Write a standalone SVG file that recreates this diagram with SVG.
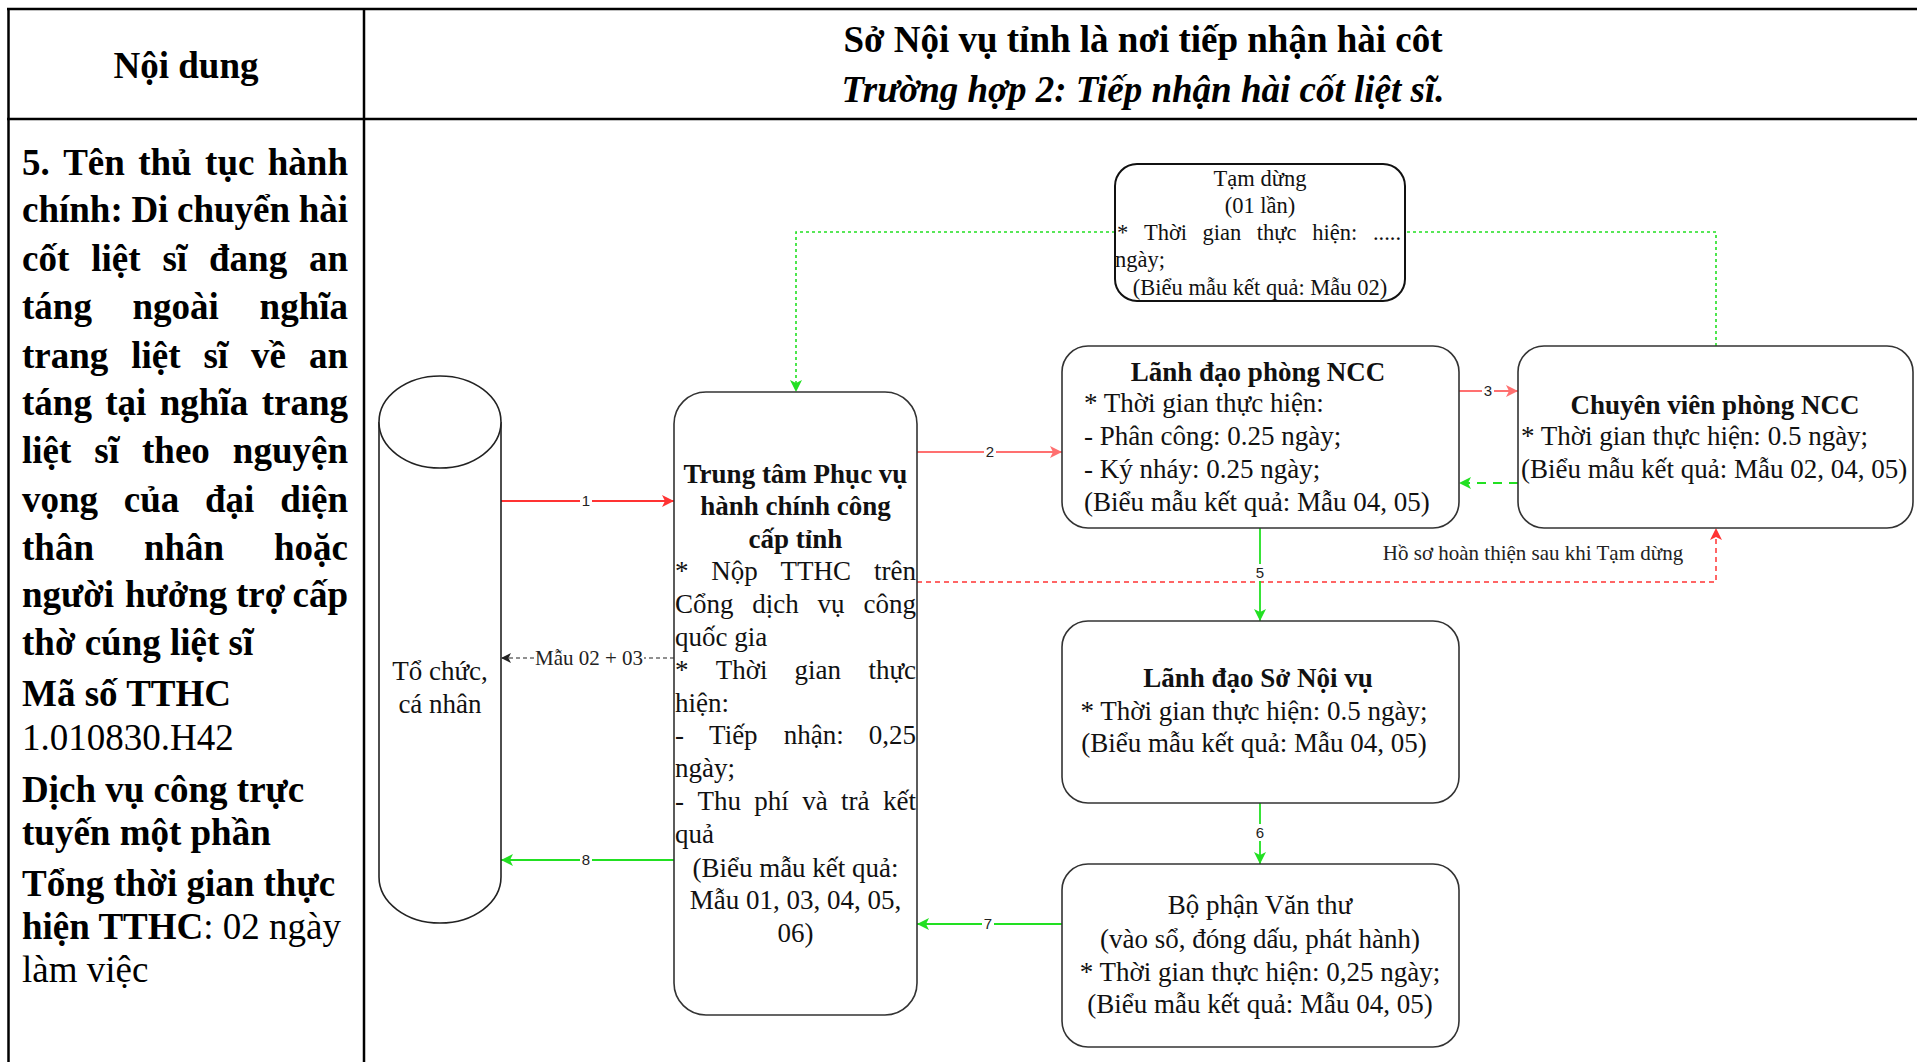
<svg xmlns="http://www.w3.org/2000/svg" width="1917" height="1062" viewBox="0 0 1917 1062">
  <style>
    .grid { stroke: #000; stroke-width: 2.5; fill: none; }
    .hb { font-family: "Liberation Serif", "Times New Roman", serif; font-size: 37px; font-weight: bold; fill: #000; }
    .hi { font-family: "Liberation Serif", "Times New Roman", serif; font-size: 37px; font-weight: bold; font-style: italic; fill: #000; }
    .lb { font-family: "Liberation Serif", "Times New Roman", serif; font-size: 37px; font-weight: bold; fill: #000; }
    .lr { font-family: "Liberation Serif", "Times New Roman", serif; font-size: 37px; font-weight: normal; fill: #000; }
    .box { fill: #fff; stroke: #333; stroke-width: 1.6; }
    .nt { font-family: "Liberation Serif", "Times New Roman", serif; font-size: 27px; fill: #111; }
    .ntb { font-family: "Liberation Serif", "Times New Roman", serif; font-size: 27px; font-weight: bold; fill: #111; }
    .st { font-family: "Liberation Serif", "Times New Roman", serif; font-size: 22.5px; fill: #111; }
    .c { text-anchor: middle; }
    .e { text-anchor: end; }
    .lbl { font-family: "Liberation Sans", Arial, sans-serif; font-size: 15px; fill: #222; text-anchor: middle; }
    .elbl { font-family: "Liberation Serif", "Times New Roman", serif; font-size: 21px; fill: #222; text-anchor: middle; }
    .red { stroke: #ff3333; stroke-width: 1.8; fill: none; }
    .pink { stroke: #ff7070; stroke-width: 1.8; fill: none; }
    .green { stroke: #22e022; stroke-width: 1.8; fill: none; }
    .dot { stroke-dasharray: 3 3; stroke-width: 1.6; }
    .dash { stroke-dasharray: 5 4; stroke-width: 1.5; }
    .ldash { stroke-dasharray: 9 7; }
    .blk { stroke: #222; stroke-width: 1.2; fill: none; stroke-dasharray: 4 3; }
  </style>
  <defs>
    <marker id="aRed" viewBox="0 0 10 10" refX="10" refY="5" markerUnits="userSpaceOnUse" markerWidth="14" markerHeight="12" orient="auto">
      <path d="M0,0 L10,5 L0,10 L2.5,5 z" fill="#ff3333"/>
    </marker>
    <marker id="aPink" viewBox="0 0 10 10" refX="10" refY="5" markerUnits="userSpaceOnUse" markerWidth="14" markerHeight="12" orient="auto">
      <path d="M0,0 L10,5 L0,10 L2.5,5 z" fill="#ff7070"/>
    </marker>
    <marker id="aGreen" viewBox="0 0 10 10" refX="10" refY="5" markerUnits="userSpaceOnUse" markerWidth="14" markerHeight="12" orient="auto">
      <path d="M0,0 L10,5 L0,10 L2.5,5 z" fill="#22e022"/>
    </marker>
    <marker id="aBlack" viewBox="0 0 10 10" refX="10" refY="5" markerUnits="userSpaceOnUse" markerWidth="12" markerHeight="10" orient="auto">
      <path d="M0,0 L10,5 L0,10 L2.5,5 z" fill="#222"/>
    </marker>
  </defs>

  <rect width="1917" height="1062" fill="#fff"/>

  <!-- table frame -->
  <g id="table">
    <line class="grid" x1="7" y1="9" x2="1917" y2="9"/>
    <line class="grid" x1="7" y1="119" x2="1917" y2="119"/>
    <line class="grid" x1="8.5" y1="8" x2="8.5" y2="1062"/>
    <line class="grid" x1="364" y1="8" x2="364" y2="1062"/>
    <text class="hb c" x="186" y="78">Nội dung</text>
    <text class="hb c" x="1143" y="52">Sở Nội vụ tỉnh là nơi tiếp nhận hài côt</text>
    <text class="hi c" x="1143" y="102">Trường hợp 2: Tiếp nhận hài cốt liệt sĩ.</text>
  </g>

  <!-- left column: procedure description -->
  <g id="procedure-info">
    <text class="lb" y="175"><tspan x="22">5.</tspan><tspan x="63.2">Tên</tspan><tspan x="138.2">thủ</tspan><tspan x="205.1">tục</tspan><tspan x="348" text-anchor="end">hành</tspan></text>
    <text class="lb" y="222"><tspan x="22">chính:</tspan><tspan x="131.4">Di</tspan><tspan x="177">chuyển</tspan><tspan x="348" text-anchor="end">hài</tspan></text>
    <text class="lb" y="271"><tspan x="22">cốt</tspan><tspan x="91.2">liệt</tspan><tspan x="162.4">sĩ</tspan><tspan x="209">đang</tspan><tspan x="348" text-anchor="end">an</tspan></text>
    <text class="lb" y="319"><tspan x="22">táng</tspan><tspan x="132.5">ngoài</tspan><tspan x="348" text-anchor="end">nghĩa</tspan></text>
    <text class="lb" y="368"><tspan x="22">trang</tspan><tspan x="131.2">liệt</tspan><tspan x="203.4">sĩ</tspan><tspan x="251">về</tspan><tspan x="348" text-anchor="end">an</tspan></text>
    <text class="lb" y="415"><tspan x="22">táng</tspan><tspan x="105.3">tại</tspan><tspan x="159.8">nghĩa</tspan><tspan x="348" text-anchor="end">trang</tspan></text>
    <text class="lb" y="463"><tspan x="22">liệt</tspan><tspan x="94.3">sĩ</tspan><tspan x="142">theo</tspan><tspan x="348" text-anchor="end">nguyện</tspan></text>
    <text class="lb" y="512"><tspan x="22">vọng</tspan><tspan x="123.8">của</tspan><tspan x="205">đại</tspan><tspan x="348" text-anchor="end">diện</tspan></text>
    <text class="lb" y="560"><tspan x="22">thân</tspan><tspan x="143.9">nhân</tspan><tspan x="348" text-anchor="end">hoặc</tspan></text>
    <text class="lb" y="607"><tspan x="22">người</tspan><tspan x="125">hưởng</tspan><tspan x="236">trợ</tspan><tspan x="348" text-anchor="end">cấp</tspan></text>
    <text class="lb" x="22" y="655">thờ cúng liệt sĩ</text>
    <text class="lb" x="22" y="706">Mã số TTHC</text>
    <text class="lr" x="22" y="750">1.010830.H42</text>
    <text class="lb" x="22" y="802">Dịch vụ công trực</text>
    <text class="lb" x="22" y="845">tuyến một phần</text>
    <text class="lb" x="22" y="896">Tổng thời gian thực</text>
    <text class="lb" x="22" y="939">hiện TTHC<tspan font-weight="normal">: 02 ngày</tspan></text>
    <text class="lr" x="22" y="982">làm việc</text>
  </g>

  <!-- connectors -->
  <g id="connectors">
    <line class="red" x1="495" y1="501" x2="674" y2="501" marker-end="url(#aRed)"/>
    <line class="blk" x1="674" y1="658" x2="501" y2="658" marker-end="url(#aBlack)"/>
    <line class="green" x1="674" y1="860" x2="501" y2="860" marker-end="url(#aGreen)"/>
    <line class="pink" x1="917" y1="452" x2="1062" y2="452" marker-end="url(#aPink)"/>
    <path class="red dash" d="M917,582 L1716,582 L1716,528" marker-end="url(#aRed)"/>
    <line class="pink" x1="1459" y1="391" x2="1518" y2="391" marker-end="url(#aPink)"/>
    <line class="green ldash" x1="1518" y1="483" x2="1459" y2="483" marker-end="url(#aGreen)"/>
    <path class="green dot" d="M1716,346 L1716,232 L1405,232"/>
    <path class="green dot" d="M1115,232 L796,232 L796,392" marker-end="url(#aGreen)"/>
    <line class="green" x1="1260" y1="528" x2="1260" y2="621" marker-end="url(#aGreen)"/>
    <line class="green" x1="1260" y1="803" x2="1260" y2="864" marker-end="url(#aGreen)"/>
    <line class="green" x1="1062" y1="924" x2="917" y2="924" marker-end="url(#aGreen)"/>

    <rect x="580" y="492" width="12" height="17" fill="#fff"/>
    <text class="lbl" x="586" y="506">1</text>
    <rect x="984" y="443" width="12" height="17" fill="#fff"/>
    <text class="lbl" x="990" y="457">2</text>
    <rect x="1482" y="382" width="12" height="17" fill="#fff"/>
    <text class="lbl" x="1488" y="396">3</text>
    <rect x="1254" y="564" width="12" height="17" fill="#fff"/>
    <text class="lbl" x="1260" y="578">5</text>
    <rect x="1254" y="824" width="12" height="17" fill="#fff"/>
    <text class="lbl" x="1260" y="838">6</text>
    <rect x="982" y="915" width="12" height="17" fill="#fff"/>
    <text class="lbl" x="988" y="929">7</text>
    <rect x="580" y="851" width="12" height="17" fill="#fff"/>
    <text class="lbl" x="586" y="865">8</text>
    <rect x="534" y="646" width="110" height="24" fill="#fff"/>
    <text class="elbl" x="589" y="665">Mẫu 02 + 03</text>
    <text class="elbl" font-size="22" x="1533" y="560">Hồ sơ hoàn thiện sau khi Tạm dừng</text>
  </g>

  <!-- applicant -->
  <g id="node-applicant">
    <path d="M379,422 L379,877 A61,46 0 0 0 501,877 L501,422" fill="#fff" stroke="#222" stroke-width="1.6"/>
    <ellipse cx="440" cy="422" rx="61" ry="46" fill="#fff" stroke="#222" stroke-width="1.6"/>
    <text class="nt c" font-size="26" x="440" y="680">Tổ chức,</text>
    <text class="nt c" font-size="26" x="440" y="713">cá nhân</text>
  </g>

  <!-- public service centre -->
  <g id="node-service-centre">
    <rect class="box" x="674" y="392" width="243" height="623" rx="32"/>
    <text class="ntb c" x="795.5" y="483">Trung tâm Phục vụ</text>
    <text class="ntb c" x="795.5" y="515">hành chính công</text>
    <text class="ntb c" x="795.5" y="548">cấp tỉnh</text>
    <text class="nt" y="580"><tspan x="675">*</tspan><tspan x="711.3">Nộp</tspan><tspan x="780.6">TTHC</tspan><tspan x="916" text-anchor="end">trên</tspan></text>
    <text class="nt" y="613"><tspan x="675">Cổng</tspan><tspan x="752.3">dịch</tspan><tspan x="817.6">vụ</tspan><tspan x="916" text-anchor="end">công</tspan></text>
    <text class="nt" x="675" y="646">quốc gia</text>
    <text class="nt" y="679"><tspan x="675">*</tspan><tspan x="715.7">Thời</tspan><tspan x="794.4">gian</tspan><tspan x="916" text-anchor="end">thực</tspan></text>
    <text class="nt" x="675" y="712">hiện:</text>
    <text class="nt" y="744"><tspan x="675">-</tspan><tspan x="709.1">Tiếp</tspan><tspan x="783.7">nhận:</tspan><tspan x="916" text-anchor="end">0,25</tspan></text>
    <text class="nt" x="675" y="777">ngày;</text>
    <text class="nt" y="810"><tspan x="675">-</tspan><tspan x="697.4">Thu</tspan><tspan x="754.3">phí</tspan><tspan x="802.2">và</tspan><tspan x="841.1">trả</tspan><tspan x="916" text-anchor="end">kết</tspan></text>
    <text class="nt" x="675" y="843">quả</text>
    <text class="nt c" x="795.5" y="877">(Biểu mẫu kết quả:</text>
    <text class="nt c" x="795.5" y="909">Mẫu 01, 03, 04, 05,</text>
    <text class="nt c" x="795.5" y="942">06)</text>
  </g>

  <!-- suspension -->
  <g id="node-suspension">
    <rect x="1115" y="164" width="290" height="137" rx="22" fill="#fff" stroke="#111" stroke-width="2"/>
    <text class="st c" x="1260" y="186">Tạm dừng</text>
    <text class="st c" x="1260" y="213">(01 lần)</text>
    <text class="st" y="240"><tspan x="1117">*</tspan><tspan x="1143.9">Thời</tspan><tspan x="1202.5">gian</tspan><tspan x="1256.8">thực</tspan><tspan x="1312.3">hiện:</tspan><tspan x="1401" text-anchor="end">.....</tspan></text>
    <text class="st" x="1115" y="267">ngày;</text>
    <text class="st c" x="1260" y="295">(Biểu mẫu kết quả: Mẫu 02)</text>
  </g>

  <!-- department head -->
  <g id="node-dept-head">
    <rect class="box" x="1062" y="346" width="397" height="182" rx="26"/>
    <text class="ntb c" x="1258" y="381">Lãnh đạo phòng NCC</text>
    <text class="nt" x="1084" y="412">* Thời gian thực hiện:</text>
    <text class="nt" x="1084" y="445">- Phân công: 0.25 ngày;</text>
    <text class="nt" x="1084" y="478">- Ký nháy: 0.25 ngày;</text>
    <text class="nt" x="1084" y="511">(Biểu mẫu kết quả: Mẫu 04, 05)</text>
  </g>

  <!-- specialist -->
  <g id="node-specialist">
    <rect class="box" x="1518" y="346" width="395" height="182" rx="26"/>
    <text class="ntb c" x="1715" y="414">Chuyên viên phòng NCC</text>
    <text class="nt" x="1521" y="445">* Thời gian thực hiện: 0.5 ngày;</text>
    <text class="nt" x="1521" y="478">(Biểu mẫu kết quả: Mẫu 02, 04, 05)</text>
  </g>

  <!-- department of home affairs leadership -->
  <g id="node-director">
    <rect class="box" x="1062" y="621" width="397" height="182" rx="26"/>
    <text class="ntb c" x="1258" y="687">Lãnh đạo Sở Nội vụ</text>
    <text class="nt c" x="1254" y="720">* Thời gian thực hiện: 0.5 ngày;</text>
    <text class="nt c" x="1254" y="752">(Biểu mẫu kết quả: Mẫu 04, 05)</text>
  </g>

  <!-- clerical office -->
  <g id="node-clerical">
    <rect class="box" x="1062" y="864" width="397" height="183" rx="26"/>
    <text class="nt c" x="1260" y="914">Bộ phận Văn thư</text>
    <text class="nt c" x="1260" y="948">(vào sổ, đóng dấu, phát hành)</text>
    <text class="nt c" x="1260" y="981">* Thời gian thực hiện: 0,25 ngày;</text>
    <text class="nt c" x="1260" y="1013">(Biểu mẫu kết quả: Mẫu 04, 05)</text>
  </g>
</svg>
